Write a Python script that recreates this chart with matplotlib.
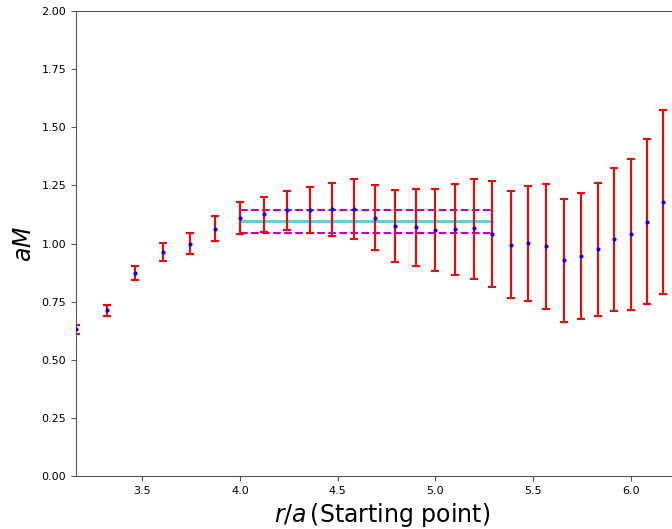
import matplotlib
matplotlib.use('Agg')
import matplotlib.pyplot as plt

# starting points r/a and effective mass aM with errors
r = [3.162, 3.317, 3.464, 3.606, 3.742, 3.873, 4.000, 4.123, 4.243, 4.359,
     4.472, 4.583, 4.690, 4.796, 4.899, 5.000, 5.099, 5.196, 5.292, 5.385,
     5.477, 5.568, 5.657, 5.745, 5.831, 5.916, 6.000, 6.083, 6.164]
aM = [0.631, 0.714, 0.875, 0.965, 0.999, 1.064, 1.110, 1.126, 1.143, 1.144,
      1.147, 1.150, 1.111, 1.074, 1.070, 1.060, 1.062, 1.065, 1.041, 0.995,
      1.001, 0.989, 0.928, 0.948, 0.976, 1.018, 1.040, 1.094, 1.180]
aM_hi = [0.649, 0.737, 0.905, 1.004, 1.044, 1.118, 1.178, 1.200, 1.227, 1.243,
         1.260, 1.277, 1.252, 1.229, 1.234, 1.234, 1.257, 1.277, 1.269, 1.226,
         1.249, 1.257, 1.193, 1.219, 1.262, 1.326, 1.365, 1.448, 1.576]
aM_lo = [0.612, 0.688, 0.843, 0.926, 0.955, 1.011, 1.042, 1.049, 1.057, 1.047,
         1.034, 1.021, 0.972, 0.920, 0.905, 0.883, 0.866, 0.849, 0.813, 0.766,
         0.753, 0.718, 0.662, 0.675, 0.690, 0.708, 0.713, 0.741, 0.784]

# plateau fit
fit_range = [4.000, 5.292]
fit_val = 1.096
fit_hi = 1.144
fit_lo = 1.047

err = [[m - lo for m, lo in zip(aM, aM_lo)], [hi - m for m, hi in zip(aM, aM_hi)]]

fig = plt.figure(figsize=(6.72, 5.29), dpi=100)
# axes run off the right edge like in the original crop
ax = fig.add_axes([76 / 672, 53 / 529, 613 / 672, 465 / 529])

ax.errorbar(r, aM, yerr=err, fmt='none', ecolor='r', elinewidth=1.5, capsize=3, capthick=1.5, zorder=2)
ax.plot(r, aM, 'b.', markersize=4, zorder=3)
ax.plot(fit_range, [fit_val, fit_val], color='c', alpha=0.7, lw=2, zorder=1)
ax.plot(fit_range, [fit_hi, fit_hi], 'm--', lw=1.5, zorder=1)
ax.plot(fit_range, [fit_lo, fit_lo], 'm--', lw=1.5, zorder=1)

ax.set_xlim(3.16, 6.299)
ax.set_ylim(0, 2)
ax.set_yticks([0, 0.25, 0.5, 0.75, 1.0, 1.25, 1.5, 1.75, 2.0])
ax.set_xticks([3.5, 4.0, 4.5, 5.0, 5.5, 6.0])
ax.tick_params(labelsize=8, color='#555555')
for s in ax.spines.values():
    s.set_color('#555555')

ax.set_xlabel(r'$r/a\,$(Starting point)', fontsize=17)
ax.set_ylabel(r'$aM$', fontsize=17)

fig.savefig('out.png', dpi=100)
